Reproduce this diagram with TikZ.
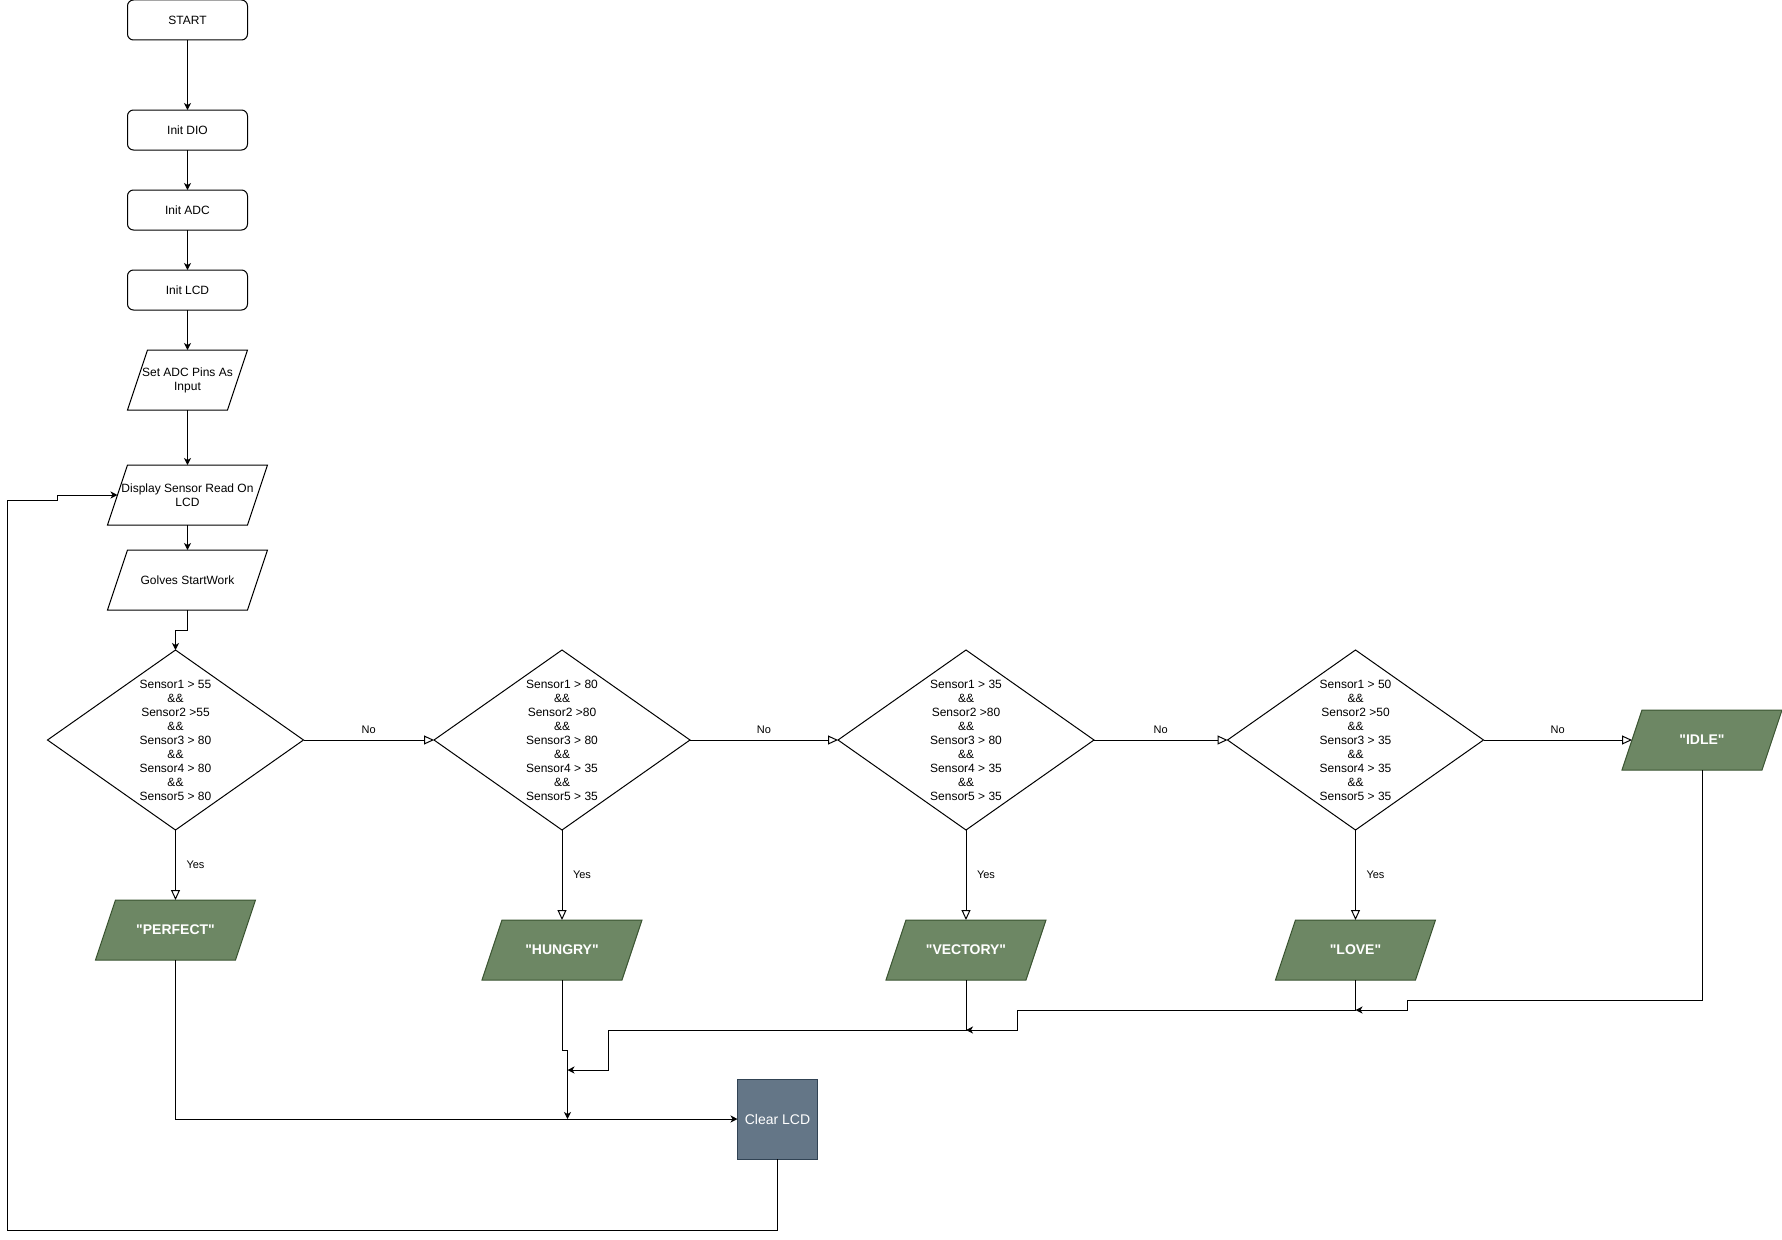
\documentclass[tikz,border=0pt]{standalone}
\usepackage{xcolor}
\usepackage{tikz}
\usepackage{fontspec}
\setmainfont{Liberation Sans}
\usetikzlibrary{arrows.meta,positioning,shapes.geometric}
\definecolor{OutGreen}   {HTML}{6D8764}
\definecolor{OutGreenLn} {HTML}{3A5431}
\definecolor{LcdGray}    {HTML}{647687}
\definecolor{LcdGrayLn}  {HTML}{314354}
% zero-width text box, 60pt high, so the slant comes out as 20pt
\newcommand{\iotext}[1]{\hbox to 0pt{\hss\parbox[c][60pt][c]{160pt}{\centering #1}\hss}}
\newcommand{\qt}[1]{\textquotedbl#1\textquotedbl}

\begin{document}
\begin{tikzpicture}[x=1pt,y=-1pt,line width=1pt,
    procbox/.style={draw,rounded corners=6pt,minimum width=120pt,minimum height=40pt,
      inner sep=0pt,outer sep=0pt,font=\fontsize{12}{14}\selectfont},
    iobox/.style={draw,trapezium,trapezium left angle=71.565,trapezium right angle=108.435,
      trapezium stretches body,minimum width=160pt,minimum height=60pt,
      inner sep=0pt,outer sep=0pt,font=\fontsize{12}{14}\selectfont},
    outbox/.style={iobox,fill=OutGreen,draw=OutGreenLn,text=white,
      font=\fontsize{14}{16}\selectfont\bfseries},
    decision/.style={draw,diamond,aspect=1.4222,minimum width=256pt,minimum height=180pt,
      inner sep=0pt,outer sep=0pt,align=center,font=\fontsize{12}{14}\selectfont},
    lcdbox/.style={draw=LcdGrayLn,fill=LcdGray,text=white,minimum width=80pt,minimum height=80pt,
      inner sep=0pt,outer sep=0pt,font=\fontsize{14}{16}\selectfont},
    flow/.style={-{Stealth[length=7pt,width=7pt,inset=2pt]}},
    choice/.style={-{Triangle[open,length=10pt,width=9pt]}},
    lbl/.style={font=\fontsize{11}{13}\selectfont,inner sep=0pt}]
  \useasboundingbox (0,0) rectangle (1782,1239);

  % set up column
  \node[procbox] (start)   at (187.5,20)  {START};
  \node[procbox] (initdio) at (187.5,130) {Init DIO};
  \node[procbox] (initadc) at (187.5,210) {Init ADC};
  \node[procbox] (initlcd) at (187.5,290) {Init LCD};
  \node[iobox,minimum width=120pt] (setpins) at (187.5,380) {\iotext{Set ADC Pins As\\Input}};
  \node[iobox] (showread)  at (187.5,495) {\iotext{Display Sensor Read On\\LCD}};
  \node[iobox] (startwork) at (187.5,580) {\iotext{Golves StartWork}};

  % checks
  \node[decision] (perfectq) at (175.5,740)
    {Sensor1 > 55\\\&\&\\Sensor2 >55\\\&\&\\Sensor3 > 80\\\&\&\\Sensor4 > 80\\\&\&\\Sensor5 > 80};
  \node[decision] (hungryq) at (562,740)
    {Sensor1 > 80\\\&\&\\Sensor2 >80\\\&\&\\Sensor3 > 80\\\&\&\\Sensor4 > 35\\\&\&\\Sensor5 > 35};
  \node[decision] (vectoryq) at (966,740)
    {Sensor1 > 35\\\&\&\\Sensor2 >80\\\&\&\\Sensor3 > 80\\\&\&\\Sensor4 > 35\\\&\&\\Sensor5 > 35};
  \node[decision] (loveq) at (1355.5,740)
    {Sensor1 > 50\\\&\&\\Sensor2 >50\\\&\&\\Sensor3 > 35\\\&\&\\Sensor4 > 35\\\&\&\\Sensor5 > 35};

  % outputs
  \node[outbox] (perfect) at (175.5,930)  {\iotext{\qt{PERFECT}}};
  \node[outbox] (hungry)  at (562,950)    {\iotext{\qt{HUNGRY}}};
  \node[outbox] (vectory) at (966,950)    {\iotext{\qt{VECTORY}}};
  \node[outbox] (love)    at (1355.5,950) {\iotext{\qt{LOVE}}};
  \node[outbox] (idle)    at (1702,740)   {\iotext{\qt{IDLE}}};
  \node[lcdbox] (clearlcd) at (777.5,1119) {Clear LCD};

  \coordinate (mergeA) at (567.5,1119);
  \coordinate (mergeB) at (567.5,1070);
  \coordinate (mergeC) at (966,1030);
  \coordinate (mergeD) at (1355.5,1010);

  % main flow
  \draw[flow] (start.south) -- (initdio.north);
  \draw[flow] (initdio.south) -- (initadc.north);
  \draw[flow] (initadc.south) -- (initlcd.north);
  \draw[flow] (initlcd.south) -- (setpins.center |- setpins.north);
  \draw[flow] (setpins.center |- setpins.south) -- (showread.center |- showread.north);
  \draw[flow] (showread.center |- showread.south) -- (startwork.center |- startwork.north);
  \draw[flow] (startwork.center |- startwork.south) -- ++(0,20) -| (perfectq.north);

  % no / yes
  \draw[choice] (perfectq.east) -- node[lbl,yshift=10pt]{No} (hungryq.west);
  \draw[choice] (hungryq.east) -- node[lbl,yshift=10pt]{No} (vectoryq.west);
  \draw[choice] (vectoryq.east) -- node[lbl,yshift=10pt]{No} (loveq.west);
  \draw[choice] (loveq.east) -- node[lbl,yshift=10pt]{No} (idle.left side);
  \draw[choice] (perfectq.south) -- node[lbl,xshift=20pt]{Yes} (perfectq.south |- perfect.north);
  \draw[choice] (hungryq.south) -- node[lbl,xshift=20pt]{Yes} (hungryq.south |- hungry.north);
  \draw[choice] (vectoryq.south) -- node[lbl,xshift=20pt]{Yes} (vectoryq.south |- vectory.north);
  \draw[choice] (loveq.south) -- node[lbl,xshift=20pt]{Yes} (loveq.south |- love.north);

  % back to clear lcd
  \draw[flow] (perfect.center |- perfect.south) |- (clearlcd.west);
  \draw[flow] (hungry.center |- hungry.south) -- ++(0,70) -| (mergeA);
  \draw[flow] (vectory.center |- vectory.south) -- ++(0,50) -| (608,1070) -- (mergeB);
  \draw[flow] (love.center |- love.south) -- ++(0,30) -| (1017.5,1030) -- (mergeC);
  \draw[flow] (idle.center |- idle.south) -- ++(0,230) -| (1407,1010) -- (mergeD);
  \draw[flow] (clearlcd.south) |- (7.5,1230) |- (57.7,500) |- (showread.left side);
\end{tikzpicture}
\end{document}
